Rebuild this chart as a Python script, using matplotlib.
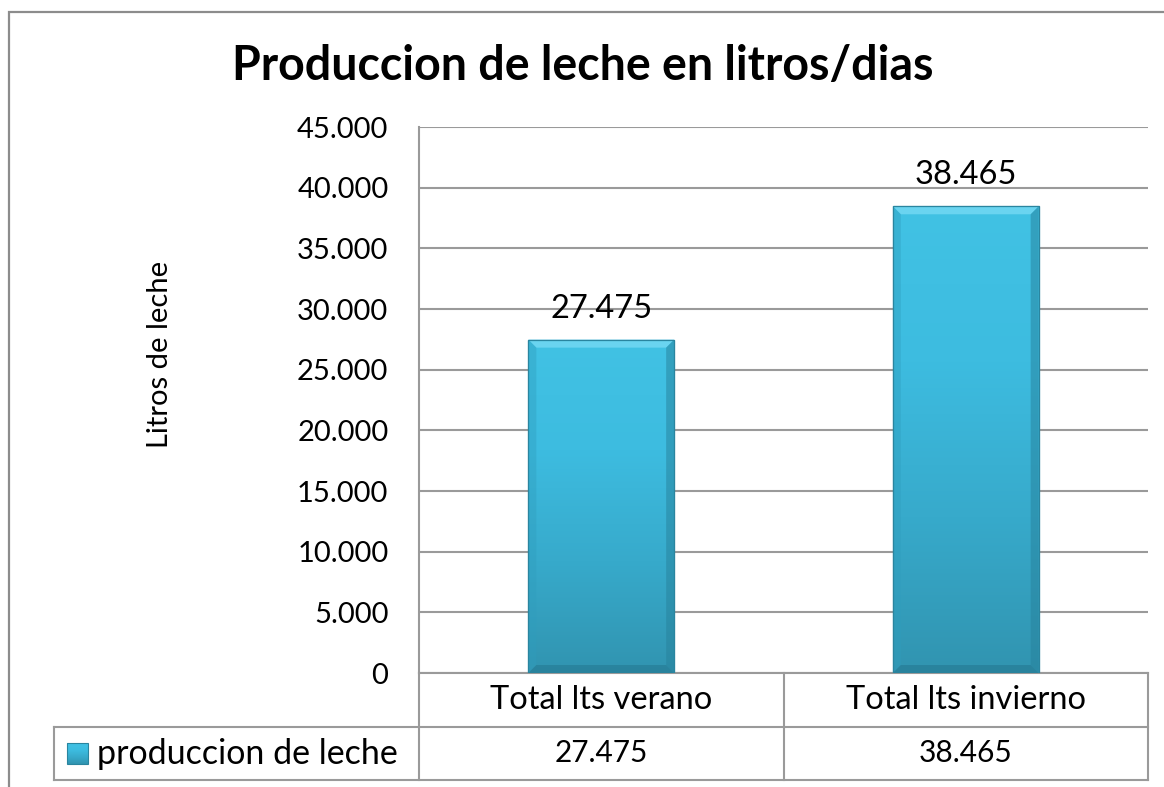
import matplotlib
matplotlib.use("Agg")
import matplotlib.pyplot as plt
import numpy as np
from matplotlib.patches import Polygon, Rectangle
from matplotlib.lines import Line2D
from matplotlib.colors import LinearSegmentedColormap
import matplotlib.transforms as mtransforms

# ---- data ----
categories = ["Total lts verano", "Total lts invierno"]
values = [27475, 38465]
value_labels = ["27.475", "38.465"]
series_name = "produccion de leche"
title = "Produccion de leche en litros/dias"
ylabel = "Litros de leche"
yticks = [0, 5000, 10000, 15000, 20000, 25000, 30000, 35000, 40000, 45000]
ytick_labels = ["0", "5.000", "10.000", "15.000", "20.000", "25.000",
                "30.000", "35.000", "40.000", "45.000"]

plt.rcParams['font.family'] = ['Lato', 'DejaVu Sans']

W, H = 1164, 787
fig = plt.figure(figsize=(W / 100, H / 100), dpi=100)
fig.patch.set_facecolor("white")

grid_c = "#9a9a9a"

# outer chart border (extends beyond the image at right/bottom)
fig.add_artist(Rectangle((9 / W, -0.1), 1.2, 1 - 11.5 / H + 0.1,
                         transform=fig.transFigure, fill=False,
                         edgecolor="#8c8c8c", lw=1.6))

L, R, T, B = 419, 1148, 127, 673
ax = fig.add_axes([L / W, 1 - B / H, (R - L) / W, (B - T) / H])
ax.set_xlim(-0.5, 1.5)
ax.set_ylim(0, 45000)

for s in ["top", "right", "bottom"]:
    ax.spines[s].set_visible(False)
ax.spines["left"].set_color(grid_c)
ax.spines["left"].set_linewidth(1.5)

ax.set_yticks(yticks)
ax.set_yticklabels(ytick_labels, fontsize=21)
ax.tick_params(axis="y", length=0, pad=22)
ax.set_xticks([])
ax.yaxis.grid(True, color=grid_c, lw=1.5)
ax.set_axisbelow(True)

fig.text(160 / W, 1 - 354 / H, ylabel, rotation=90, ha="center", va="center", fontsize=21)

# bars
x = np.arange(len(categories))
bw = 0.40
bars = ax.bar(x, values, width=bw, color="#3ab5d8", edgecolor="#2a8aa5", lw=0.8, zorder=2)

cmap = LinearSegmentedColormap.from_list("g", ["#3194b0", "#37aacb", "#3dbce0", "#41c2e4"])
grad = np.linspace(0, 1, 256).reshape(-1, 1)
for rect in bars:
    x0, w, h = rect.get_x(), rect.get_width(), rect.get_height()
    im = ax.imshow(grad, extent=(x0, x0 + w, 0, h), origin="lower",
                   cmap=cmap, aspect="auto", zorder=2.1, interpolation="bicubic")
    im.set_clip_path(rect)
    dx = 8 / (R - L) * 2.0
    dy = 8 / (B - T) * 45000
    top = Polygon([(x0, h), (x0 + w, h), (x0 + w - dx, h - dy), (x0 + dx, h - dy)],
                  closed=True, facecolor="#6ad4f0", edgecolor="none", zorder=2.2)
    ax.add_patch(top)
    left = Polygon([(x0, 0), (x0, h), (x0 + dx, h - dy), (x0 + dx, dy)],
                   closed=True, facecolor="#2f9dbd", alpha=0.4, edgecolor="none", zorder=2.2)
    ax.add_patch(left)
    right = Polygon([(x0 + w, 0), (x0 + w, h), (x0 + w - dx, h - dy), (x0 + w - dx, dy)],
                    closed=True, facecolor="#27819b", alpha=0.5, edgecolor="none", zorder=2.2)
    ax.add_patch(right)
    bot = Polygon([(x0, 0), (x0 + w, 0), (x0 + w - dx, dy), (x0 + dx, dy)],
                  closed=True, facecolor="#23748c", alpha=0.5, edgecolor="none", zorder=2.2)
    ax.add_patch(bot)
    ax.add_patch(Rectangle((x0, 0), w, h, fill=False, edgecolor="#2a859f", lw=0.9, zorder=2.3))

ax.set_xlim(-0.5, 1.5)
ax.set_ylim(0, 45000)

for xi, v, lab in zip(x, values, value_labels):
    ax.annotate(lab, (xi, v), xytext=(0, 11.5), textcoords="offset points",
                ha="center", va="bottom", fontsize=23.5, zorder=3)

# ---- data table ----
tb = mtransforms.blended_transform_factory(ax.transData, ax.transAxes)
ph = B - T
r1 = -(727 - B) / ph
r2 = -(780 - B) / ph
lc_ax = (54 - L) / (R - L)

def hline(y, x0a, x1a):
    ax.add_line(Line2D([x0a, x1a], [y, y], transform=ax.transAxes, color=grid_c,
                       lw=1.5, clip_on=False))

def vline(xa, y0, y1):
    ax.add_line(Line2D([xa, xa], [y0, y1], transform=ax.transAxes, color=grid_c,
                       lw=1.5, clip_on=False))

hline(0, 0, 1)
hline(r1, lc_ax, 1)
hline(r2, lc_ax, 1)
vline(0, 0, r2)
vline(0.5, 0, r2)
vline(1, 0, r2)
vline(lc_ax, r1, r2)

for xi, cat, lab in zip(x, categories, value_labels):
    ax.text(xi, r1 / 2, cat, transform=tb, ha="center", va="center", fontsize=23.5)
    ax.text(xi, (r1 + r2) / 2, lab, transform=tb, ha="center", va="center", fontsize=21.5)

# legend key + series name
ky = (r1 + r2) / 2
kx0 = (67 - L) / (R - L)
kw = 21 / (R - L)
khh = 21 / ph
kim = ax.imshow(grad, extent=(0, 1, 0, 1), origin="lower", cmap=cmap, aspect="auto",
                transform=mtransforms.Affine2D().scale(kw, khh).translate(kx0, ky - khh / 2) + ax.transAxes,
                clip_on=False, zorder=3)
ax.add_patch(Rectangle((kx0, ky - khh / 2), kw, khh, transform=ax.transAxes, fill=False,
                       edgecolor="#2a859f", lw=0.8, clip_on=False, zorder=3.1))
ax.text((97 - L) / (R - L), ky, series_name, transform=ax.transAxes, ha="left",
        va="center", fontsize=24.5)
ax.set_xlim(-0.5, 1.5)
ax.set_ylim(0, 45000)

fig.text(583 / W, 1 - 66 / H, title, ha="center", va="center", fontsize=33.5, fontweight="bold")

fig.savefig("out.png", dpi=100, facecolor="white")
